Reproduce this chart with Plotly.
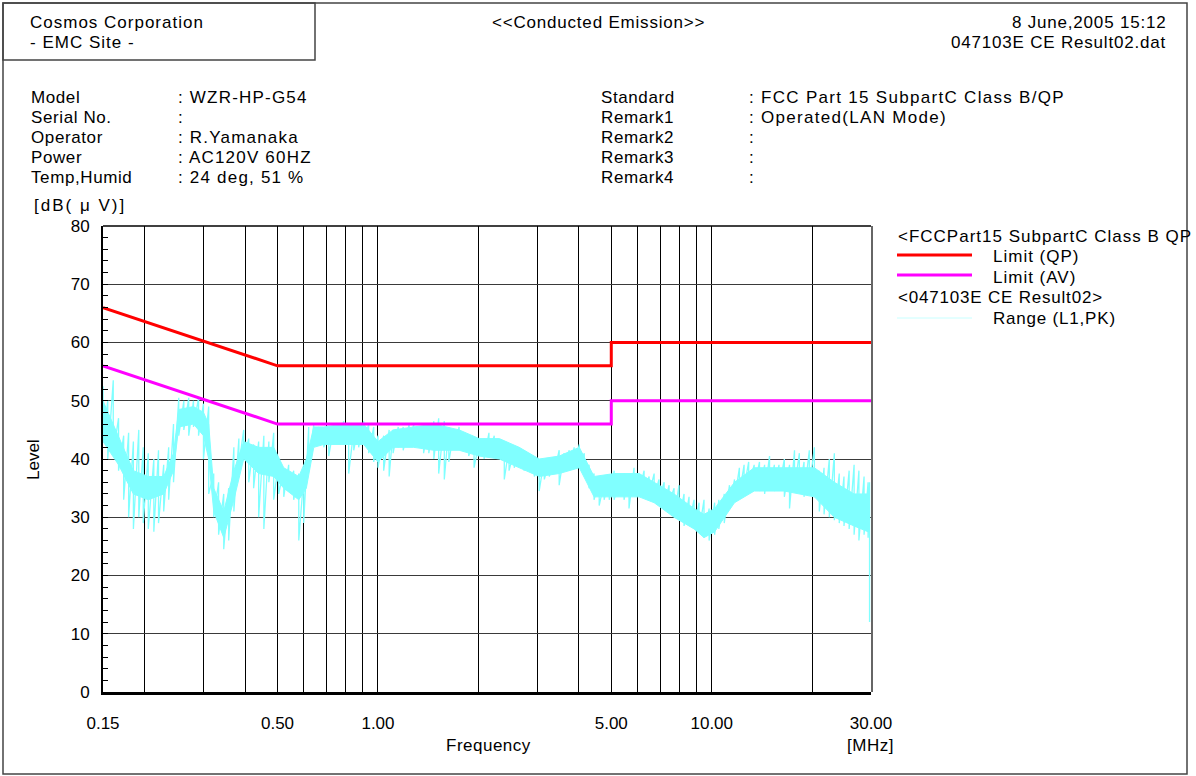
import plotly.graph_objects as go

# ---- measurement data -------------------------------------------------------
# Swept frequency points [MHz] with the peak-detector trace envelope at each
# point (upper and lower excursion in dB(uV)).
freq_mhz = [
    0.150, 0.155, 0.161, 0.167, 0.173, 0.179, 0.185, 0.192, 0.198, 0.205,
    0.213, 0.220, 0.228, 0.236, 0.244, 0.253, 0.262, 0.271, 0.280, 0.290,
    0.300, 0.311, 0.322, 0.333, 0.345, 0.357, 0.370, 0.383, 0.396, 0.410,
    0.424, 0.439, 0.455, 0.471, 0.487, 0.504, 0.522, 0.540, 0.559, 0.579,
    0.599, 0.620, 0.642, 0.664, 0.688, 0.712, 0.737, 0.763, 0.789, 0.817,
    0.846, 0.875, 0.906, 0.938, 0.971, 1.00, 1.04, 1.08, 1.11, 1.15,
    1.19, 1.24, 1.28, 1.33, 1.37, 1.42, 1.47, 1.52, 1.58, 1.63,
    1.69, 1.75, 1.81, 1.87, 1.94, 2.01, 2.08, 2.15, 2.23, 2.31,
    2.39, 2.47, 2.56, 2.65, 2.74, 2.84, 2.94, 3.04, 3.15, 3.26,
    3.37, 3.49, 3.61, 3.74, 3.87, 4.01, 4.15, 4.29, 4.44, 4.60,
    4.76, 4.93, 5.10, 5.28, 5.46, 5.65, 5.85, 6.06, 6.27, 6.49,
    6.72, 6.95, 7.20, 7.45, 7.71, 7.98, 8.26, 8.55, 8.85, 9.16,
    9.48, 9.82, 10.2, 10.5, 10.9, 11.3, 11.7, 12.1, 12.5, 12.9,
    13.4, 13.9, 14.4, 14.9, 15.4, 15.9, 16.5, 17.1, 17.7, 18.3,
    18.9, 19.6, 20.3, 21.0, 21.7, 22.5, 23.3, 24.1, 24.9, 25.8,
    26.7, 27.6, 28.6, 29.4, 29.7,
]
level_hi = [
    52.5, 50.0, 53.5, 47.0, 44.0, 44.5, 43.0, 45.0, 42.0, 41.0,
    40.0, 41.5, 39.0, 42.0, 46.0, 50.5, 50.0, 50.5, 50.0, 50.5,
    49.5, 49.0, 37.5, 36.0, 34.0, 35.0, 42.0, 43.5, 45.0, 43.5,
    42.5, 43.0, 44.0, 43.0, 44.5, 39.5, 38.0, 39.0, 38.0, 37.5,
    37.0, 45.5, 46.0, 45.5, 45.0, 44.5, 45.5, 46.0, 46.5, 45.5,
    45.0, 46.0, 46.5, 46.0, 45.5, 44.0, 44.0, 45.0, 45.0, 45.5,
    45.5, 46.0, 46.0, 45.5, 45.0, 46.0, 46.5, 47.0, 46.5, 45.5,
    45.0, 45.5, 44.5, 44.0, 43.5, 43.0, 43.5, 44.5, 44.0, 43.0,
    42.5, 42.0, 41.5, 42.0, 41.5, 41.0, 40.0, 39.5, 40.0, 39.5,
    40.0, 41.5, 41.0, 41.5, 42.0, 42.5, 41.0, 39.0, 37.5, 36.5,
    36.0, 37.0, 38.0, 37.0, 37.5, 37.0, 38.5, 37.5, 38.0, 37.0,
    37.5, 36.5, 36.0, 35.5, 35.0, 35.5, 34.0, 33.5, 33.0, 32.5,
    33.0, 31.5, 32.5, 33.0, 34.0, 35.5, 36.5, 38.5, 39.0, 39.5,
    39.0, 39.5, 39.0, 40.5, 39.0, 39.0, 40.0, 39.0, 41.5, 41.0,
    39.5, 41.5, 42.0, 38.0, 38.5, 40.0, 41.0, 37.5, 37.0, 38.0,
    39.0, 38.0, 37.0, 36.0, 36.0,
]
level_lo = [
    43.0, 40.0, 41.0, 38.0, 33.0, 30.0, 28.0, 30.0, 29.0, 28.0,
    27.5, 29.0, 31.0, 33.0, 36.0, 44.0, 45.0, 44.0, 45.5, 44.0,
    40.0, 34.0, 30.0, 27.0, 24.5, 26.0, 31.0, 39.0, 40.0, 36.0,
    35.0, 30.0, 28.0, 36.0, 33.0, 34.0, 33.5, 35.0, 33.0, 26.0,
    29.0, 38.0, 43.0, 43.5, 42.0, 40.5, 42.5, 43.0, 43.0, 37.5,
    41.5, 42.0, 43.0, 41.0, 39.5, 38.5, 38.0, 37.0, 41.0, 42.0,
    41.5, 43.0, 42.5, 43.0, 41.0, 41.0, 40.0, 37.5, 36.5, 39.5,
    42.0, 42.5, 42.0, 40.5, 38.5, 41.0, 40.0, 41.0, 41.5, 40.0,
    36.5, 38.0, 38.5, 39.0, 38.0, 38.5, 37.0, 34.5, 36.5, 37.0,
    37.5, 35.5, 38.0, 38.0, 38.5, 39.0, 37.5, 35.0, 33.0, 32.0,
    33.0, 33.0, 33.0, 34.0, 33.0, 31.5, 34.5, 34.5, 34.0, 34.0,
    33.5, 33.0, 32.0, 32.5, 30.0, 29.5, 28.5, 29.0, 28.0, 27.5,
    26.5, 26.0, 27.0, 28.0, 29.0, 31.5, 33.0, 34.0, 35.0, 35.5,
    35.0, 34.5, 34.0, 35.0, 34.5, 35.0, 33.5, 31.5, 35.0, 34.5,
    33.5, 35.0, 34.0, 31.0, 30.5, 30.0, 29.5, 29.0, 28.5, 28.0,
    27.0, 26.0, 27.0, 26.5, 12.0,
]

# Dense core of the trace (where the sweep is solid), coarser frequency steps
core_freq = [
    0.150, 0.167, 0.185, 0.205, 0.228, 0.244, 0.253, 0.280, 0.300, 0.311,
    0.322, 0.345, 0.370, 0.396, 0.439, 0.487, 0.522, 0.579, 0.610, 0.642,
    0.688, 0.789, 0.906, 1.00, 1.11, 1.28, 1.47, 1.75, 2.01, 2.31,
    2.65, 3.04, 3.49, 4.01, 4.44, 5.10, 6.06, 6.72, 7.71, 8.85,
    9.48, 10.2, 11.7, 13.4, 16.5, 20.3, 23.3, 26.7, 29.4,
]
core_hi = [
    50.0, 44.0, 38.0, 37.0, 37.0, 41.0, 48.5, 49.0, 48.0, 46.0,
    35.0, 31.0, 38.0, 43.0, 42.0, 42.0, 38.5, 37.0, 40.0, 45.5,
    45.5, 46.0, 46.0, 43.0, 45.0, 45.5, 46.0, 45.0, 43.5, 43.5,
    42.0, 40.0, 40.5, 42.0, 37.0, 37.5, 37.5, 36.0, 34.0, 31.5,
    30.5, 31.5, 36.0, 38.5, 38.5, 38.5, 36.0, 34.0, 34.0,
]
core_lo = [
    43.0, 39.0, 34.0, 33.0, 34.0, 38.0, 45.5, 46.0, 44.0, 40.0,
    31.0, 26.5, 33.0, 40.0, 37.5, 37.0, 35.0, 33.0, 35.0, 42.0,
    42.5, 42.5, 42.5, 39.5, 42.0, 42.0, 41.5, 41.5, 40.5, 40.0,
    38.5, 37.0, 37.5, 38.5, 33.5, 33.5, 33.5, 32.5, 30.0, 28.0,
    26.5, 27.5, 32.5, 34.5, 34.5, 33.5, 30.0, 28.5, 27.5,
]

# FCC Part 15 Subpart C Class B conducted limits
limit_freq = [0.15, 0.50, 5.0, 5.0, 30.0]
limit_qp = [66, 56, 56, 60, 60]
limit_av = [56, 46, 46, 50, 50]

# Axis ticks
grid_freqs = [0.15, 0.2, 0.3, 0.4, 0.5, 0.6, 0.7, 0.8, 0.9, 1.0,
              2.0, 3.0, 4.0, 5.0, 6.0, 7.0, 8.0, 9.0, 10.0, 20.0, 30.0]
labelled_freqs = {0.15: "0.15", 0.5: "0.50", 1.0: "1.00", 5.0: "5.00",
                  10.0: "10.00", 30.0: "30.00"}
freq_ticktext = [labelled_freqs.get(f, "") for f in grid_freqs]
level_ticks = [0, 10, 20, 30, 40, 50, 60, 70, 80]

# ---- figure -----------------------------------------------------------------
W, H = 1196, 776
L, R, T, B = 103, 325, 226, 84
FONT = "Liberation Sans, Arial, Helvetica, sans-serif"
CYAN = "#80ffff"


def px(x):
    """page pixel column -> paper x"""
    return (x - L) / (W - L - R)


def py(y):
    """page pixel row -> paper y"""
    return (H - B - y) / (H - T - B)


# peak trace drawn as vertical excursions between envelope values
trace_x, trace_y = [], []
for f, hi, lo in zip(freq_mhz, level_hi, level_lo):
    trace_x += [f, f]
    trace_y += [hi, lo]

fig = go.Figure()
fig.add_trace(go.Scatter(
    x=core_freq + core_freq[::-1], y=core_hi + core_lo[::-1],
    mode="lines", fill="toself", fillcolor=CYAN,
    line=dict(color=CYAN, width=1), xaxis="x", yaxis="y", hoverinfo="skip"))
fig.add_trace(go.Scatter(
    x=trace_x, y=trace_y, mode="lines", name="Range (L1,PK)",
    line=dict(color=CYAN, width=1.3), xaxis="x", yaxis="y",
    hoverinfo="skip"))
fig.add_trace(go.Scatter(
    x=limit_freq, y=limit_qp, mode="lines", name="Limit (QP)",
    line=dict(color="#ff0000", width=3), xaxis="x2", yaxis="y2"))
fig.add_trace(go.Scatter(
    x=limit_freq, y=limit_av, mode="lines", name="Limit (AV)",
    line=dict(color="#ff00ff", width=3), xaxis="x2", yaxis="y2"))

xr = [-0.823909, 1.477121]  # log10(0.15) .. log10(30)
fig.update_layout(
    width=W, height=H,
    margin=dict(l=L, r=R, t=T, b=B, pad=0),
    paper_bgcolor="white", plot_bgcolor="white",
    showlegend=False,
    font=dict(family=FONT, size=17, color="black"),
    xaxis=dict(type="log", range=xr, visible=False, fixedrange=True),
    yaxis=dict(range=[0, 80], visible=False, fixedrange=True),
    xaxis2=dict(
        type="log", range=xr, overlaying="x", anchor="y2", side="bottom",
        tickmode="array", tickvals=grid_freqs, ticktext=freq_ticktext,
        showgrid=True, gridcolor="black", gridwidth=1,
        showline=True, linecolor="black", linewidth=3,
        ticks="", ticklabelstandoff=14,
        tickfont=dict(size=17), zeroline=False),
    yaxis2=dict(
        range=[0, 80], overlaying="y", anchor="x2", side="left",
        tickmode="array", tickvals=level_ticks,
        showgrid=True, gridcolor="#3a3a3a", gridwidth=1,
        showline=True, linecolor="black", linewidth=2,
        ticks="inside", ticklen=5, tickcolor="black",
        minor=dict(dtick=2, ticks="inside", ticklen=5, tickcolor="black",
                   showgrid=False),
        ticklabelstandoff=8, tickfont=dict(size=17), zeroline=False),
)

shapes = []
# outer page frame and the company box
shapes.append(dict(type="rect", xref="paper", yref="paper",
                   x0=px(3), x1=px(1187), y0=py(774), y1=py(3),
                   line=dict(color="#444444", width=1.5)))
shapes.append(dict(type="rect", xref="paper", yref="paper",
                   x0=px(3), x1=px(315), y0=py(60), y1=py(3),
                   line=dict(color="#444444", width=1.5)))
# top and right edges of the plot frame
shapes.append(dict(type="line", xref="paper", yref="paper",
                   x0=0, x1=1, y0=1, y1=1, line=dict(color="black", width=1.5)))
shapes.append(dict(type="line", xref="paper", yref="paper",
                   x0=px(872), x1=px(872), y0=0, y1=1,
                   line=dict(color="#666666", width=2)))
# legend swatches
for yy, col, wd in [(255, "#ff0000", 3), (275, "#ff00ff", 3), (318, "#c8ffff", 1)]:
    shapes.append(dict(type="line", xref="paper", yref="paper",
                       x0=px(897), x1=px(972), y0=py(yy), y1=py(yy),
                       line=dict(color=col, width=wd)))
fig.update_layout(shapes=shapes)

ann = []


def text(x, y, s, anchor="left", size=17, angle=0, spacing=1.0):
    if spacing:
        s = '<span style="letter-spacing:%.1fpx">%s</span>' % (spacing, s)
    ann.append(dict(x=px(x), y=py(y), xref="paper", yref="paper", text=s,
                    showarrow=False, xanchor=anchor, yanchor="middle",
                    textangle=angle, font=dict(size=size, family=FONT)))


# header
text(28, 22, "Cosmos Corporation")
text(28, 43, "- EMC Site -")
text(598, 22, "&lt;&lt;Conducted Emission&gt;&gt;", anchor="center", spacing=0.8)
text(1168, 22, "8 June,2005 15:12", anchor="right", spacing=0.8)
text(1168, 43, "047103E CE Result02.dat", anchor="right", spacing=0.8)

# test conditions
left_labels = ["Model", "Serial No.", "Operator", "Power", "Temp,Humid"]
left_values = [": WZR-HP-G54", ":", ": R.Yamanaka", ": AC120V 60HZ", ": 24 deg, 51 %"]
right_labels = ["Standard", "Remark1", "Remark2", "Remark3", "Remark4"]
right_values = [": FCC Part 15 SubpartC Class B/QP", ": Operated(LAN Mode)", ":", ":", ":"]
for i in range(5):
    yy = 97 + 20 * i
    text(29, yy, left_labels[i], spacing=0.6)
    text(176, yy, left_values[i], spacing=1.2)
    text(599, yy, right_labels[i], spacing=0.6)
    text(747, yy, right_values[i], spacing=1.3)

# axis captions
text(32, 205, "[dB( μ V)]", spacing=2.0)
text(33, 460, "Level", anchor="center", angle=-90, spacing=0)
text(488, 745, "Frequency", anchor="center", spacing=0.5)
text(870, 745, "[MHz]", anchor="center", spacing=0.5)

# legend text
text(896, 236, "&lt;FCCPart15 SubpartC Class B QP", spacing=1.0)
text(991, 256, "Limit (QP)", spacing=1.0)
text(991, 277, "Limit (AV)", spacing=1.0)
text(896, 297, "&lt;047103E CE Result02&gt;", spacing=0.8)
text(991, 318, "Range (L1,PK)", spacing=0.8)

fig.update_layout(annotations=ann)

fig.write_html("out.html")
